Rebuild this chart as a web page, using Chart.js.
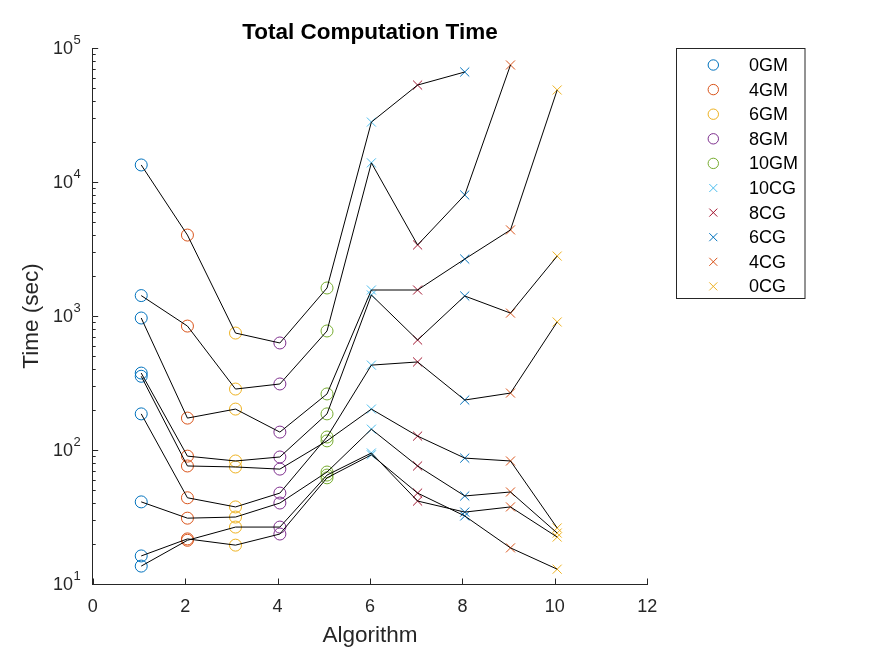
<!DOCTYPE html>
<html><head><meta charset="utf-8">
<script src="https://cdn.jsdelivr.net/npm/chart.js@4.4.1/dist/chart.umd.min.js"></script>
<style>html,body{margin:0;padding:0;background:#fff;overflow:hidden}#wrap{position:relative;width:875px;height:656px}canvas{display:block}</style>
</head><body><div id="wrap"><canvas id="c" width="875" height="656" style="width:875px;height:656px"></canvas></div>
<script>
// ---------------- data ----------------
const algorithms = ['0GM','4GM','6GM','8GM','10GM','10CG','8CG','6CG','4CG','0CG'];
const algX = [1.05, 2.05, 3.09, 4.05, 5.07, 6.03, 7.03, 8.05, 9.04, 10.05];
// computation time (sec) per algorithm, one entry per test case (null = no result)
const t0GM  = [13400, 1420, 966, 375, 186, 355, 41, 13.6, 16.2];
const t4GM  = [4018, 841, 173, 90, 44, 76, 31, 21.2, 21.7];
const t6GM  = [746, 285, 202, 82.8, 37.6, 74.7, 31.6, 26.6, 19.5];
const t8GM  = [629, 311, 136, 88.7, 47.7, 72, 40.2, 26.6, 23.6];
const t10GM = [1618, 773, 262, 186, 125, 117, 68.5, 65, 62];
const t10CG = [28000, 13900, 1563, 1435, 430, 202, 143, 95, 92];
const t8CG  = [52900, 3390, 1563, 662, 454, 127, 76, 41.6, 47.7];
const t6CG  = [66200, 8000, 2660, 1410, 236, 87, 45.4, 34.4, 32.2];
const t4CG  = [null, 74700, 4390, 1051, 266, 82.8, 48.6, 37.6, 18.6];
const t0CG  = [null, null, 48600, 2800, 902, 26.2, 24, 22.4, 12.9];
const xTickValues = [0, 2, 4, 6, 8, 10, 12];
const yTickValues = [10, 100, 1000, 10000, 100000];
const yTickBase = '10';
const yTickExponents = ['1', '2', '3', '4', '5'];

// ---------------- styles ----------------
const seriesColors = ['#0072BD','#D95319','#EDB120','#7E2F8E','#77AC30','#4DBEEE','#A2142F','#0072BD','#D95319','#EDB120'];
const seriesMarkers = ['circle','circle','circle','circle','circle','crossRot','crossRot','crossRot','crossRot','crossRot'];
const AX = '#262626';
const FONT = "'Liberation Sans', Arial, Helvetica, sans-serif";

const columns = [t0GM, t4GM, t6GM, t8GM, t10GM, t10CG, t8CG, t6CG, t4CG, t0CG];
const nCases = t0GM.length;

const datasets = [];
for (let k = 0; k < nCases; k++) {
  const pts = [];
  columns.forEach((col, j) => { if (col[k] != null) pts.push({x: algX[j], y: col[k]}); });
  datasets.push({type:'line', label:'case'+(k+1), data: pts, borderColor:'#000', borderWidth:1,
    pointRadius:0, pointHoverRadius:0, fill:false, tension:0, order:0, isSeries:false});
}
columns.forEach((col, j) => {
  const pts = [];
  col.forEach(v => { if (v != null) pts.push({x: algX[j], y: v}); });
  const circ = seriesMarkers[j] === 'circle';
  datasets.push({type:'scatter', label: algorithms[j], data: pts, showLine:false,
    pointStyle: seriesMarkers[j], pointRadius: circ ? 6 : 6.4, pointBorderWidth: 1,
    borderColor: seriesColors[j], backgroundColor: 'rgba(0,0,0,0)',
    pointBorderColor: seriesColors[j], pointBackgroundColor:'rgba(0,0,0,0)', order:1, isSeries:true});
});

// inward ticks + y tick labels with raised exponents (MATLAB style)
const axisPlugin = {
  id:'inTicks',
  afterDatasetsDraw(chart){
    const ctx = chart.ctx, xs = chart.scales.x, ys = chart.scales.y;
    const L = xs.left, B = ys.bottom;
    ctx.save(); ctx.strokeStyle = AX; ctx.lineWidth = 1;
    ctx.beginPath();
    xTickValues.forEach(v => { const p = Math.round(xs.getPixelForValue(v)) + 0.5; ctx.moveTo(p, B); ctx.lineTo(p, B - 5.5); });
    for (let e = 1; e <= 5; e++) {
      const base = Math.pow(10, e);
      const p = Math.round(ys.getPixelForValue(base)) + 0.5;
      ctx.moveTo(L, p); ctx.lineTo(L + 5.5, p);
      if (e < 5) for (let m = 2; m <= 9; m++) {
        const q = Math.round(ys.getPixelForValue(m * base)) + 0.5;
        ctx.moveTo(L, q); ctx.lineTo(L + 3, q);
      }
    }
    ctx.stroke();
    // y tick labels
    ctx.fillStyle = AX; ctx.textBaseline = 'middle';
    const xr = L - 12;
    yTickValues.forEach((v, i) => {
      const py = ys.getPixelForValue(v);
      ctx.font = '13px ' + FONT;
      const we = ctx.measureText(yTickExponents[i]).width;
      ctx.textAlign = 'left';
      ctx.fillText(yTickExponents[i], xr - we, py - 8);
      ctx.font = '18px ' + FONT;
      ctx.textAlign = 'right';
      ctx.fillText(yTickBase, xr - we - 0.5, py + 1);
    });
    ctx.restore();
  }
};

const legendPlugin = {
  id:'boxLegend',
  afterDraw(chart){
    const ctx = chart.ctx;
    const items = chart.data.datasets.filter(d => d.isSeries);
    const x0 = 676.5, y0 = 48.5, w = 128.5, h = 250;
    ctx.save();
    ctx.fillStyle = '#fff'; ctx.fillRect(x0, y0, w, h);
    ctx.strokeStyle = AX; ctx.lineWidth = 1; ctx.strokeRect(x0, y0, w, h);
    ctx.font = '18px ' + FONT; ctx.textBaseline = 'middle'; ctx.textAlign = 'left';
    items.forEach((d, i) => {
      const cy = 65 + i * 24.6, cx = 713.3;
      ctx.strokeStyle = d.borderColor; ctx.lineWidth = 1;
      ctx.beginPath();
      if (d.pointStyle === 'circle') { ctx.arc(cx, cy, 5.2, 0, Math.PI * 2); }
      else { const r = 4; ctx.moveTo(cx - r, cy - r); ctx.lineTo(cx + r, cy + r); ctx.moveTo(cx - r, cy + r); ctx.lineTo(cx + r, cy - r); }
      ctx.stroke();
      ctx.fillStyle = '#000';
      ctx.fillText(d.label, 749, cy + 1);
    });
    ctx.restore();
  }
};

new Chart(document.getElementById('c'), {
  type:'scatter',
  data:{ datasets },
  options:{
    responsive:false, maintainAspectRatio:false, animation:false, devicePixelRatio:1,
    layout:{ padding:{ left:0, right:227.7, top:0, bottom:0 } },
    plugins:{
      legend:{ display:false },
      tooltip:{ enabled:false },
      title:{ display:true, text:'Total Computation Time', fullSize:false, color:'#000',
        font:{ family:FONT, size:22.5, weight:'bold' }, padding:{ top:19.5, bottom:1.5 } }
    },
    scales:{
      x:{ type:'linear', min:0, max:12,
        afterBuildTicks: s => { s.ticks = xTickValues.map(v => ({value:v})); },
        afterFit: s => { s.height = 72; },
        grid:{ display:false, drawTicks:false },
        border:{ display:true, color:AX, width:1 },
        ticks:{ color:AX, padding:12, font:{ family:FONT, size:18 }, maxRotation:0, callback: v => String(v) },
        title:{ display:true, text:'Algorithm', color:AX, font:{ family:FONT, size:22.5 }, padding:{ top:0, bottom:6.5 } }
      },
      y:{ type:'logarithmic', min:10, max:100000,
        afterBuildTicks: s => { s.ticks = yTickValues.map(v => ({value:v})); },
        afterFit: s => { s.width = 92.7; },
        grid:{ display:false, drawTicks:false },
        border:{ display:true, color:AX, width:1 },
        ticks:{ display:false },
        title:{ display:true, text:'Time (sec)', color:AX, font:{ family:FONT, size:22.5 }, padding:{ top:18.5, bottom:0 } }
      }
    }
  },
  plugins:[axisPlugin, legendPlugin]
});
</script></body></html>
